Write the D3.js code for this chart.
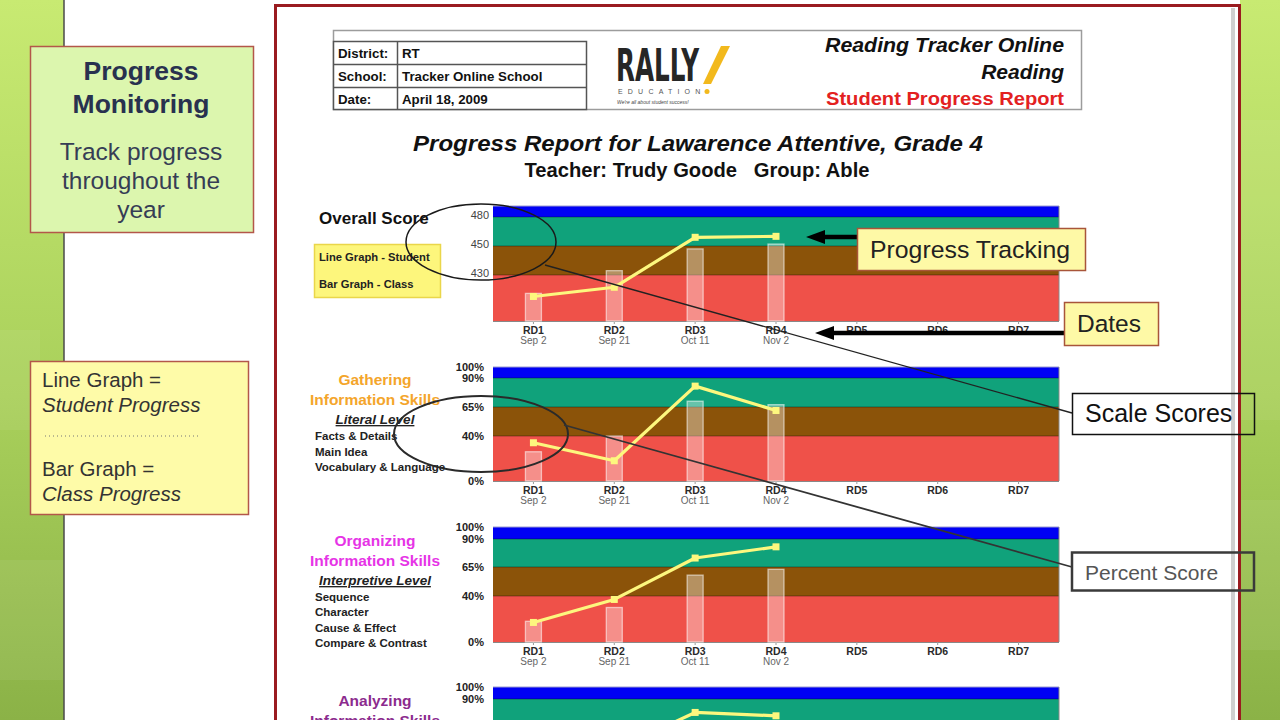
<!DOCTYPE html>
<html><head><meta charset="utf-8">
<script src="https://cdn.jsdelivr.net/npm/d3@7"></script>
<style>body{margin:0;background:#fff;overflow:hidden}svg{display:block;font-family:"Liberation Sans",Arial,sans-serif}</style>
</head><body><svg id="c" width="1280" height="720"></svg>
<script>
// ---------- data ----------
const rounds = ["RD1","RD2","RD3","RD4","RD5","RD6","RD7"];
const roundDates = ["Sep 2","Sep 21","Oct 11","Nov 2","","",""];
const overallLevels = [400,430,450,480,500];
const overallTicks = [480,450,430];
const overallStudent = [416,422,459,460];
const overallClass = [418,433,448,452];
const percentLevels = [0,40,65,90,100];
const percentTicks = [100,90,65,40,0];
const gatheringStudent = [34,18,83,62];
const gatheringClass = [26,40,70,67];
const organizingStudent = [17,37,73,83];
const organizingClass = [18,30,58,63];
const analyzingStudent = [25,45,78,75];
const analyzingClass = [20,35,60,62];

const svg = d3.select("#c");
const defs = svg.append("defs");
const gr = defs.append("linearGradient").attr("id","grn").attr("x1",0).attr("y1",0).attr("x2",0).attr("y2",1);
gr.append("stop").attr("offset","0%").attr("stop-color","#c8ea72");
gr.append("stop").attr("offset","55%").attr("stop-color","#a9d05b");
gr.append("stop").attr("offset","100%").attr("stop-color","#8bb247");

// slide background & side strips
svg.append("rect").attr("width",1280).attr("height",720).attr("fill","#fff");
svg.append("rect").attr("x",0).attr("y",0).attr("width",64).attr("height",720).attr("fill","url(#grn)");
svg.append("rect").attr("x",1240).attr("y",0).attr("width",40).attr("height",720).attr("fill","url(#grn)");
[[0,560,64,120],[0,330,40,100],[1240,120,40,300],[1240,500,40,150]].forEach(r=>{
  svg.append("rect").attr("x",r[0]).attr("y",r[1]).attr("width",r[2]).attr("height",r[3]).attr("fill","#fff").attr("opacity",0.06);
});
svg.append("line").attr("x1",64).attr("x2",64).attr("y1",0).attr("y2",720).attr("stroke","#4a4a4a").attr("stroke-width",1.5);

// report page
svg.append("rect").attr("x",275.5).attr("y",5.5).attr("width",964).attr("height",760).attr("fill","#fff").attr("stroke","#9a1b20").attr("stroke-width",3);
svg.append("rect").attr("x",1231).attr("y",8).attr("width",4).attr("height",712).attr("fill","#cfcfcf");

// header
svg.append("rect").attr("x",333.5).attr("y",30.5).attr("width",748).attr("height",79).attr("fill","none").attr("stroke","#9c9c9c").attr("stroke-width",1.5);
svg.append("rect").attr("x",333.5).attr("y",41.5).attr("width",253).attr("height",68).attr("fill","#fff").attr("stroke","#555").attr("stroke-width",1.5);
[64.5,87.5].forEach(yy=>svg.append("line").attr("x1",333).attr("x2",587).attr("y1",yy).attr("y2",yy).attr("stroke","#555").attr("stroke-width",1.5));
svg.append("line").attr("x1",397.5).attr("x2",397.5).attr("y1",41).attr("y2",110).attr("stroke","#555").attr("stroke-width",1.5);
const tbl = [["District:","RT"],["School:","Tracker Online School"],["Date:","April 18, 2009"]];
tbl.forEach((r,i)=>{
  svg.append("text").attr("x",338).attr("y",57.5+i*23).attr("font-size",13.3).attr("font-weight","bold").attr("fill","#111").text(r[0]);
  svg.append("text").attr("x",402).attr("y",57.5+i*23).attr("font-size",13.3).attr("font-weight","bold").attr("fill","#111").text(r[1]);
});
// logo
svg.append("text").attr("transform","translate(616,81) scale(1,1.3)").attr("font-family","'Liberation Sans Narrow','DejaVu Sans Condensed',sans-serif").attr("font-weight","bold").attr("font-size",34).attr("textLength",83).attr("lengthAdjust","spacingAndGlyphs").attr("fill","#262626").text("RALLY");
svg.append("polygon").attr("points","703,84 711,84 730,46 721,46").attr("fill","#f2b91d");
svg.append("text").attr("x",618).attr("y",94).attr("font-size",7).attr("letter-spacing",5.2).attr("fill","#555").text("EDUCATION");
svg.append("circle").attr("cx",707).attr("cy",91.5).attr("r",2.5).attr("fill","#f2b91d");
svg.append("text").attr("x",617).attr("y",104).attr("font-size",5).attr("font-style","italic").attr("fill","#444").text("We're all about student success!");
// right header text
svg.append("text").attr("x",1064).attr("y",52).attr("text-anchor","end").attr("font-size",21).attr("font-weight","bold").attr("font-style","italic").attr("fill","#111").attr("textLength",239).attr("lengthAdjust","spacingAndGlyphs").text("Reading Tracker Online");
svg.append("text").attr("x",1064).attr("y",79).attr("text-anchor","end").attr("font-size",21).attr("font-weight","bold").attr("font-style","italic").attr("fill","#111").text("Reading");
svg.append("text").attr("x",1064).attr("y",105).attr("text-anchor","end").attr("font-size",19).attr("font-weight","bold").attr("fill","#e3211f").attr("textLength",238).attr("lengthAdjust","spacingAndGlyphs").text("Student Progress Report");

// titles
svg.append("text").attr("x",698).attr("y",151).attr("text-anchor","middle").attr("font-size",22).attr("font-weight","bold").attr("font-style","italic").attr("fill","#111").attr("textLength",570).attr("lengthAdjust","spacingAndGlyphs").text("Progress Report for Lawarence Attentive, Grade 4");
svg.append("text").attr("x",697).attr("y",177).attr("text-anchor","middle").attr("font-size",19.5).attr("font-weight","bold").attr("fill","#111").attr("xml:space","preserve").attr("textLength",345).attr("lengthAdjust","spacingAndGlyphs").text("Teacher: Trudy Goode   Group: Able");

// ---------- charts ----------
const x = d3.scalePoint().domain(rounds).range([493,1059]).padding(0.5);
const bandColors = ["#ef5149","#8b5309","#10a27b","#0000f4"];
function drawChart(cfg){
  const bottom = cfg.top + d3.sum(cfg.bandPx);
  let acc = bottom; const range=[bottom];
  cfg.bandPx.forEach(h=>{acc-=h; range.push(acc);});
  const y = d3.scaleLinear().domain(cfg.levels).range(range);
  const g = svg.append("g");
  for(let i=0;i<4;i++){
    g.append("rect").attr("x",493).attr("width",566).attr("y",y(cfg.levels[i+1])).attr("height",y(cfg.levels[i])-y(cfg.levels[i+1])).attr("fill",bandColors[i]);
  }
  cfg.levels.slice(1,4).forEach(v=>g.append("line").attr("x1",493).attr("x2",1059).attr("y1",y(v)).attr("y2",y(v)).attr("stroke","#000").attr("stroke-opacity",0.35).attr("stroke-width",1));
  g.append("line").attr("x1",493).attr("x2",1059).attr("y1",cfg.top).attr("y2",cfg.top).attr("stroke","#9a9ad0").attr("stroke-width",1);
  g.append("line").attr("x1",493).attr("x2",1059).attr("y1",bottom+0.5).attr("y2",bottom+0.5).attr("stroke","#888").attr("stroke-width",1.2);
  g.append("line").attr("x1",1059).attr("x2",1059).attr("y1",cfg.top).attr("y2",bottom).attr("stroke","#888").attr("stroke-width",1);
  rounds.forEach(r=>g.append("line").attr("x1",x(r)).attr("x2",x(r)).attr("y1",bottom).attr("y2",bottom+3).attr("stroke","#999"));
  // class bars
  g.selectAll(".bar").data(cfg.cls).join("rect").attr("class","bar")
    .attr("x",(d,i)=>x(rounds[i])-8).attr("width",16).attr("y",d=>y(d)).attr("height",d=>bottom-y(d))
    .attr("fill","#fff").attr("fill-opacity",0.36).attr("stroke","#fff").attr("stroke-opacity",0.55).attr("stroke-width",1.3);
  // student line
  const line = d3.line().x((d,i)=>x(rounds[i])).y(d=>y(d));
  g.append("path").datum(cfg.student).attr("d",line).attr("fill","none").attr("stroke","#fdf77e").attr("stroke-width",3.2).attr("stroke-linejoin","round");
  g.selectAll(".pt").data(cfg.student).join("rect").attr("class","pt")
    .attr("x",(d,i)=>x(rounds[i])-3.5).attr("y",d=>y(d)-3.5).attr("width",7).attr("height",7).attr("fill","#fdf77e");
  // y axis labels
  const ax = d3.axisLeft(y).tickValues(cfg.ticks).tickSize(0).tickPadding(0).tickFormat(cfg.fmt);
  const ag = svg.append("g").attr("transform",`translate(${cfg.labelX},${cfg.labelDy})`).call(ax);
  ag.select(".domain").remove();
  ag.attr("font-family","'Liberation Sans',Arial,sans-serif").attr("font-size",cfg.tickSize);
  ag.selectAll("text").attr("font-weight",cfg.tickWeight).attr("fill",cfg.tickColor);
  // x labels
  rounds.forEach((r,i)=>{
    svg.append("text").attr("x",x(r)).attr("y",bottom+13).attr("text-anchor","middle").attr("font-size",10.5).attr("font-weight","bold").attr("fill","#2a2a2a").text(r);
    if(roundDates[i]) svg.append("text").attr("x",x(r)).attr("y",bottom+23).attr("text-anchor","middle").attr("font-size",10).attr("fill","#666").text(roundDates[i]);
  });
}
drawChart({top:206,bandPx:[46,29,29,11],levels:overallLevels,ticks:overallTicks,fmt:d=>d,student:overallStudent,cls:overallClass,labelX:489,labelDy:-2,tickSize:11,tickWeight:"normal",tickColor:"#444"});
const pct = d=>d+"%";
drawChart({top:367,bandPx:[45,29,29,11],levels:percentLevels,ticks:percentTicks,fmt:pct,student:gatheringStudent,cls:gatheringClass,labelX:484,labelDy:0,tickSize:11,tickWeight:"bold",tickColor:"#222"});
drawChart({top:527,bandPx:[46,29,28,12],levels:percentLevels,ticks:percentTicks,fmt:pct,student:organizingStudent,cls:organizingClass,labelX:484,labelDy:0,tickSize:11,tickWeight:"bold",tickColor:"#222"});
drawChart({top:687,bandPx:[46,29,28,12],levels:percentLevels,ticks:percentTicks,fmt:pct,student:analyzingStudent,cls:analyzingClass,labelX:484,labelDy:0,tickSize:11,tickWeight:"bold",tickColor:"#222"});

// chart side labels
svg.append("text").attr("x",319).attr("y",224).attr("font-size",17).attr("font-weight","bold").attr("fill","#111").text("Overall Score");
svg.append("rect").attr("x",314.5).attr("y",244.5).attr("width",126).attr("height",53).attr("fill","#fdf67c").attr("stroke","#ead64a").attr("stroke-width",1.5);
svg.append("text").attr("x",319).attr("y",261).attr("font-size",11.2).attr("font-weight","bold").attr("fill","#222").text("Line Graph - Student");
svg.append("text").attr("x",319).attr("y",288).attr("font-size",11.2).attr("font-weight","bold").attr("fill","#222").text("Bar Graph - Class");

function section(title, color, y0, level, items, y1, step){
  svg.append("text").attr("x",375).attr("y",y0).attr("text-anchor","middle").attr("font-size",15.5).attr("font-weight","bold").attr("fill",color).text(title);
  svg.append("text").attr("x",375).attr("y",y0+20).attr("text-anchor","middle").attr("font-size",15.5).attr("font-weight","bold").attr("fill",color).text("Information Skills");
  if(level){
    svg.append("text").attr("x",375).attr("y",y0+39).attr("text-anchor","middle").attr("font-size",13.5).attr("font-weight","bold").attr("font-style","italic").attr("text-decoration","underline").attr("fill","#222").text(level);
  }
  items.forEach((t,i)=>svg.append("text").attr("x",315).attr("y",y1+i*step).attr("font-size",11.5).attr("font-weight","bold").attr("fill","#222").text(t));
}
section("Gathering","#f4a52b",385,"Literal Level",["Facts & Details","Main Idea","Vocabulary & Language"],440,15.5);
section("Organizing","#e634e6",546,"Interpretive Level",["Sequence","Character","Cause & Effect","Compare & Contrast"],601,15.3);
section("Analyzing","#8c2b8e",706,null,[],0,0);

// ---------- callouts ----------
svg.append("ellipse").attr("cx",481).attr("cy",242).attr("rx",75).attr("ry",38).attr("fill","none").attr("stroke","#1a1a1a").attr("stroke-width",1.5);
svg.append("ellipse").attr("cx",481).attr("cy",434).attr("rx",87).attr("ry",38).attr("fill","none").attr("stroke","#2a2a2a").attr("stroke-width",2);
svg.append("line").attr("x1",545).attr("y1",265).attr("x2",1072).attr("y2",413).attr("stroke","#222").attr("stroke-width",1.3);
svg.append("line").attr("x1",564).attr("y1",425).attr("x2",1072).attr("y2",567).attr("stroke","#333").attr("stroke-width",1.8);

function arrow(tip, tail, yy){
  svg.append("line").attr("x1",tip+16).attr("x2",tail).attr("y1",yy).attr("y2",yy).attr("stroke","#000").attr("stroke-width",4.5);
  svg.append("polygon").attr("points",`${tip},${yy} ${tip+19},${yy-7} ${tip+19},${yy+7}`).attr("fill","#000");
}
arrow(806,857,237);
arrow(815,1064,333);

svg.append("rect").attr("x",857.5).attr("y",228.5).attr("width",228).attr("height",42).attr("fill","#fef9a6").attr("stroke","#a8553a").attr("stroke-width",1.5);
svg.append("text").attr("x",970).attr("y",258).attr("text-anchor","middle").attr("font-size",24.5).attr("fill","#222").attr("textLength",200).attr("lengthAdjust","spacingAndGlyphs").text("Progress Tracking");
svg.append("rect").attr("x",1064.5).attr("y",302.5).attr("width",94).attr("height",43).attr("fill","#fef9a6").attr("stroke","#a8553a").attr("stroke-width",1.5);
svg.append("text").attr("x",1109).attr("y",332).attr("text-anchor","middle").attr("font-size",24.5).attr("fill","#222").text("Dates");
svg.append("rect").attr("x",1072.5).attr("y",393.5).attr("width",182).attr("height",41).attr("fill","none").attr("stroke","#111").attr("stroke-width",1.5);
svg.append("text").attr("x",1085).attr("y",422).attr("font-size",25).attr("fill","#111").text("Scale Scores");
svg.append("rect").attr("x",1072).attr("y",552.5).attr("width",182).attr("height",38).attr("fill","none").attr("stroke","#3a3a3a").attr("stroke-width",2.5);
svg.append("text").attr("x",1085).attr("y",580).attr("font-size",21).attr("fill","#555").text("Percent Score");

// ---------- left panels ----------
svg.append("rect").attr("x",30.5).attr("y",46.5).attr("width",223).attr("height",186).attr("fill","#dcf6ae").attr("stroke","#b3574a").attr("stroke-width",1.5);
[["Progress",80,26.5,"bold","#28314f"],["Monitoring",113,26.5,"bold","#28314f"],["Track progress",160,24.5,"normal","#363d55"],["throughout the",189,24.5,"normal","#363d55"],["year",218,24.5,"normal","#363d55"]]
 .forEach(t=>svg.append("text").attr("x",141).attr("y",t[1]).attr("text-anchor","middle").attr("font-size",t[2]).attr("font-weight",t[3]).attr("fill",t[4]).text(t[0]));
svg.append("rect").attr("x",30.5).attr("y",361.5).attr("width",218).attr("height",153).attr("fill","#fefba8").attr("stroke","#b3574a").attr("stroke-width",1.5);
[["Line Graph =",387,"normal"],["Student Progress",412,"italic"],["Bar Graph =",476,"normal"],["Class Progress",501,"italic"]]
 .forEach(t=>svg.append("text").attr("x",42).attr("y",t[1]).attr("font-size",20.5).attr("font-style",t[2]).attr("fill","#333").text(t[0]));
svg.append("line").attr("x1",45).attr("x2",200).attr("y1",436).attr("y2",436).attr("stroke","#777").attr("stroke-width",1).attr("stroke-dasharray","1,3");
</script></body></html>
